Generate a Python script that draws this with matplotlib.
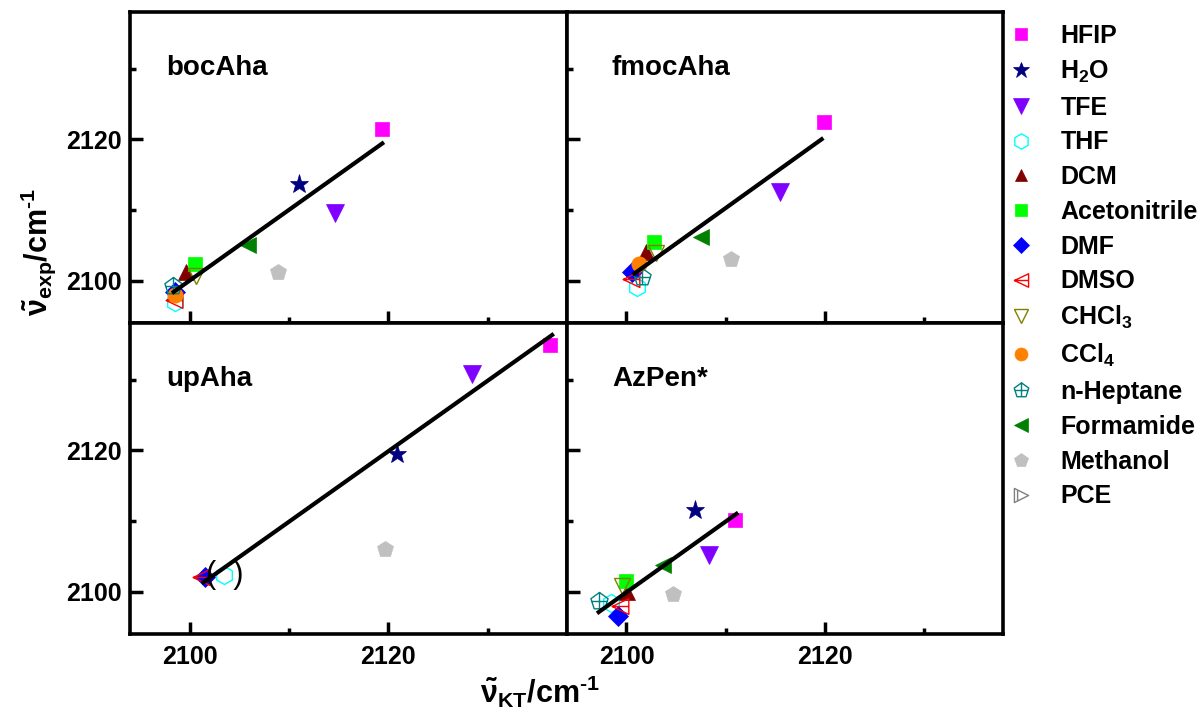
import numpy as np
import matplotlib.pyplot as plt
from matplotlib.path import Path
from matplotlib.lines import Line2D
from matplotlib.ticker import MultipleLocator

plt.rcParams['font.family'] = 'Liberation Sans'
plt.rcParams['font.weight'] = 'bold'
plt.rcParams['mathtext.fontset'] = 'custom'
plt.rcParams['mathtext.rm'] = 'Liberation Sans:bold'
plt.rcParams['mathtext.it'] = 'Liberation Sans:bold'
plt.rcParams['mathtext.bf'] = 'Liberation Sans:bold'

nan = np.nan
solvents = ['HFIP', 'H$_2$O', 'TFE', 'THF', 'DCM', 'Acetonitrile', 'DMF', 'DMSO',
            'CHCl$_3$', 'CCl$_4$', 'n-Heptane', 'Formamide', 'Methanol', 'PCE']

# nu_KT (x) and nu_exp (y), in the solvent order above
boc_x = [2119.4, 2111.0, 2114.6, 2098.5, 2099.6, 2100.5, 2098.5, 2098.4, 2100.6, 2098.5, 2098.3, 2105.9, 2108.9, nan]
boc_y = [2121.4, 2113.6, 2109.6, 2097.0, 2101.2, 2102.4, 2098.4, 2097.3, 2100.7, 2098.0, 2099.3, 2105.0, 2101.2, nan]
fmoc_x = [2119.9, nan, 2115.5, 2101.1, 2102.0, 2102.8, 2100.6, 2100.5, 2103.0, 2101.3, 2101.6, 2107.5, 2110.5, nan]
fmoc_y = [2122.4, nan, 2112.6, 2099.1, 2104.1, 2105.4, 2101.2, 2100.2, 2103.9, 2102.4, 2100.5, 2106.1, 2103.1, nan]
up_x = [2136.3, 2120.9, 2128.4, 2103.5, nan, nan, 2101.6, 2101.1, nan, nan, nan, nan, 2119.7, nan]
up_y = [2134.9, 2119.4, 2130.8, 2102.4, nan, nan, 2102.1, 2102.1, nan, nan, nan, nan, 2106.0, nan]
azp_x = [2111.0, 2106.9, 2108.3, 2098.4, 2100.1, 2100.0, 2099.1, 2099.3, 2099.6, nan, 2097.2, 2103.7, 2104.7, nan]
azp_y = [2110.1, 2111.6, 2105.2, 2098.4, 2099.9, 2101.5, 2096.5, 2097.9, 2100.8, nan, 2098.6, 2103.8, 2099.7, nan]

# fit lines (end points)
boc_fit = ([2098.4, 2119.4], [2098.4, 2119.4])
fmoc_fit = ([2100.8, 2119.7], [2101.0, 2120.0])
up_fit = ([2101.4, 2136.5], [2101.3, 2136.3])
azp_fit = ([2097.2, 2111.1], [2097.1, 2111.0])


def marker_path(shape, extra):
    verts = shape + [shape[0]] + extra
    codes = [Path.MOVETO] + [Path.LINETO] * (len(shape) - 1) + [Path.CLOSEPOLY]
    codes += [Path.MOVETO, Path.LINETO] * (len(extra) // 2)
    return Path(verts, codes)


ang = np.radians(90 + 72 * np.arange(5))
pent = [(np.cos(a), np.sin(a)) for a in ang]
dmso_m = marker_path([(-1, 0), (1, 0.95), (1, -0.95)], [(-1, 0), (1, 0)])
hept_m = marker_path(pent, [(0, 1), (0, -0.81), (-0.85, 0), (0.85, 0)])
pce_m = marker_path([(-1, 1), (1, 0), (-1, -1)], [(-0.55, 0.75), (-0.55, -0.75)])

markers = ['s', '*', 'v', 'h', '^', 's', 'D', dmso_m, 'v', 'o', hept_m, '<', 'p', pce_m]
colors = ['#FF00FF', '#000080', '#8000FF', '#00FFFF', '#800000', '#00FF00', '#0000FF',
          '#FF0000', '#808000', '#FF8000', '#008080', '#008000', '#C0C0C0', '#808080']
filled = [True, True, True, False, True, True, True, False, False, True, False, True, True, False]
sizes = [10, 14, 13, 13, 11, 10, 10, 12, 12, 11, 13, 12, 12, 12]

W, H = 1199, 722
fig = plt.figure(figsize=(W / 100, H / 100), dpi=100)


def panel(left, bottom, width, height):
    return fig.add_axes([left / W, 1 - bottom / H, width / W, height / H])


axes = [panel(130, 323, 437, 311), panel(567, 323, 436, 311),
        panel(130, 634, 437, 311), panel(567, 634, 436, 311)]
data = [(boc_x, boc_y, boc_fit, 'bocAha'), (fmoc_x, fmoc_y, fmoc_fit, 'fmocAha'),
        (up_x, up_y, up_fit, 'upAha'), (azp_x, azp_y, azp_fit, 'AzPen*')]

for i, (ax, (xs, ys, fit, name)) in enumerate(zip(axes, data)):
    for j in range(len(solvents)):
        ax.plot(xs[j], ys[j], linestyle='none', marker=markers[j], ms=sizes[j],
                color=colors[j], mfc=colors[j] if filled[j] else 'none',
                mew=1.0 if not filled[j] else 0.5)
    ax.plot(fit[0], fit[1], color='black', lw=3, zorder=5)
    ax.set_xlim(2094, 2138)
    ax.set_ylim(2094, 2138)
    ax.xaxis.set_major_locator(MultipleLocator(20))
    ax.xaxis.set_minor_locator(MultipleLocator(10))
    ax.yaxis.set_major_locator(MultipleLocator(20))
    ax.yaxis.set_minor_locator(MultipleLocator(10))
    ax.tick_params(which='both', direction='in', width=2.5, labelsize=18)
    ax.tick_params(which='major', length=9)
    ax.tick_params(which='minor', length=4)
    ax.tick_params(axis='x', pad=8)
    ax.tick_params(axis='y', pad=6)
    for sp in ax.spines.values():
        sp.set_linewidth(2.6)
    if i in (0, 1):
        ax.tick_params(axis='x', labelbottom=False)
    if i in (1, 3):
        ax.tick_params(axis='y', labelleft=False)
    tx = 0.082 if i in (0, 2) else 0.103
    ax.text(tx, 0.82, name, transform=ax.transAxes, fontsize=20, va='center')

# parentheses around THF in upAha
axes[2].text(up_x[3], up_y[3], '(  )', fontsize=22, fontweight='normal',
             ha='center', va='center')

handles = []
for j in range(len(solvents)):
    handles.append(Line2D([], [], linestyle='none', marker=markers[j], ms=sizes[j] * 0.85,
                          color=colors[j], mfc=colors[j] if filled[j] else 'none',
                          mew=1.0 if not filled[j] else 0.5))
fig.legend(handles, solvents, loc='upper left', bbox_to_anchor=(1008 / W, 1 - 24 / H),
           frameon=False, fontsize=18, handlelength=1.0, handletextpad=1.1,
           labelspacing=0.43, borderaxespad=0, borderpad=0)

fig.text(540 / W, 1 - 692 / H, r'$\tilde{\nu}_{KT}$/cm$^{\text{-}1}$', fontsize=22,
         ha='center', va='center')
fig.text(38 / W, 1 - 252 / H, r'$\tilde{\nu}_{exp}$/cm$^{\text{-}1}$', fontsize=22,
         ha='center', va='center', rotation=90)

plt.savefig('out.png', dpi=100)
